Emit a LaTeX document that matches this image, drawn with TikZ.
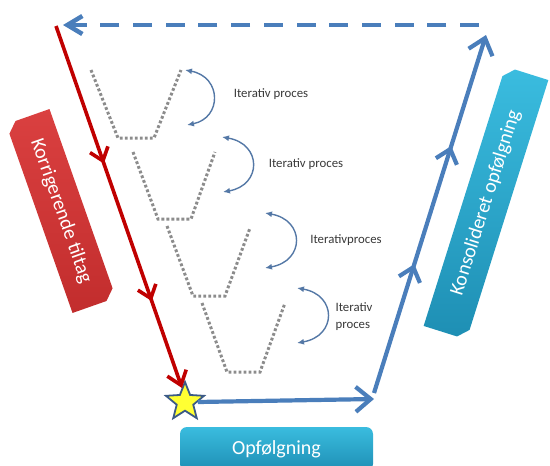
\documentclass[tikz,border=0pt]{standalone}
\usepackage{fontspec}
\setmainfont{Carlito}
\usetikzlibrary{arrows.meta,decorations.markings,shapes.geometric,shapes.misc}

\definecolor{lineblue}{HTML}{4A7EBB}
\definecolor{redline}{HTML}{C00000}
\definecolor{dotgray}{HTML}{8C8C8C}
\definecolor{curveblue}{HTML}{5478A6}
\definecolor{redA}{HTML}{DA4040}
\definecolor{redB}{HTML}{C22D2D}
\definecolor{tealA}{HTML}{3ABCDF}
\definecolor{tealB}{HTML}{1E8FB4}
\definecolor{staredge}{HTML}{3B5A86}
\definecolor{staryellow}{HTML}{FFFF33}

\tikzset{
  redpath/.style={draw=redline, line width=3.6pt},
  bluepath/.style={draw=lineblue, line width=4.2pt},
  redbarb/.style={-{Straight Barb[length=13pt,width=20pt]}},
  bluebarb/.style={-{Straight Barb[length=15pt,width=25pt]}},
  redmid/.style={postaction={decorate}, decoration={markings,
      mark=at position 0.38 with {\arrow{Straight Barb[length=12pt,width=19pt]}},
      mark=at position 0.76 with {\arrow{Straight Barb[length=12pt,width=19pt]}}}},
  bluemid/.style={postaction={decorate}, decoration={markings,
      mark=at position 0.36 with {\arrow{Straight Barb[length=13pt,width=22pt]}},
      mark=at position 0.69 with {\arrow{Straight Barb[length=13pt,width=22pt]}}}},
  dotline/.style={draw=dotgray, line width=3pt, dash pattern=on 2.8pt off 2.2pt},
  iterarrow/.style={draw=curveblue, line width=1.4pt, {Latex[length=7pt,width=6pt]}-{Latex[length=7pt,width=6pt]}},
  lbl/.style={font=\fontsize{12.8}{17}\selectfont, text=black!78, inner sep=0pt, align=left},
  banner/.style={chamfered rectangle, chamfered rectangle xsep=5pt, chamfered rectangle ysep=5pt,
      text=white, font=\fontsize{20}{24}\selectfont, inner sep=0pt},
}

\begin{document}
\begin{tikzpicture}[x=1pt,y=-1pt]
\useasboundingbox (0,0) rectangle (550,466);
\clip (0,0) rectangle (550,466);

% banners
\node[banner, chamfered rectangle corners={south west,north east}, top color=redA, bottom color=redB,
      minimum width=200pt, minimum height=46pt, rotate=-70.6] (korr) at (61,211) {Korrigerende tiltag};
\node[banner, chamfered rectangle corners={north east,south west}, top color=tealA, bottom color=tealB,
      minimum width=272pt, minimum height=45pt, rotate=72.5] (kons) at (486,203) {Konsolideret opfølgning};
\node[rectangle, rounded corners=7pt, top color=tealA, bottom color=tealB, text=white,
      font=\fontsize{20}{24}\selectfont, minimum width=193pt, minimum height=44pt] (opf) at (276.5,449) {Opfølgning};

% dotted trapezoids
\draw[dotline] (91,70) -- (118,138) -- (154,138) -- (181,70);
\draw[dotline] (133,152) -- (158,219) -- (191,219) -- (215,152);
\draw[dotline] (167,226) -- (193,296) -- (225,296) -- (250,228);
\draw[dotline] (202,303) -- (227,372) -- (260,372) -- (285,303);

% iterative arrows and labels
\coordinate (c1a) at (185,70);  \coordinate (c1b) at (187,125);
\coordinate (c2a) at (222,137); \coordinate (c2b) at (223,192);
\coordinate (c3a) at (265,213); \coordinate (c3b) at (265,268);
\coordinate (c4a) at (297,288); \coordinate (c4b) at (297,343);
\draw[iterarrow] (c1a) .. controls (222,77) and (222,118) .. (c1b);
\draw[iterarrow] (c2a) .. controls (262,144) and (262,185) .. (c2b);
\draw[iterarrow] (c3a) .. controls (305,220) and (305,261) .. (c3b);
\draw[iterarrow] (c4a) .. controls (337,295) and (337,336) .. (c4b);
\node[lbl] (l1) at (271,94) {Iterativ proces};
\node[lbl] (l2) at (306,164) {Iterativ proces};
\node[lbl] (l3) at (346,240) {Iterativproces};
\node[lbl] (l4) at (354,317) {Iterativ\\proces};

% star
\node[star, star points=5, star point ratio=2.3, draw=staredge, fill=staryellow, line width=1.8pt,
      minimum size=40pt, inner sep=0pt] (star) at (185,402) {};

% coordinates for main path
\coordinate (rstart) at (56,26);
\coordinate (rend) at (182,388);
\coordinate (bturn) at (374,399);
\coordinate (bup) at (374,393);
\coordinate (btop) at (486,35);
\coordinate (dstart) at (479,25);
\coordinate (dend) at (63,25);

% red corrective line
\draw[redpath, redmid, redbarb] (rstart) -- (rend);
% blue follow-up
\draw[bluepath, bluebarb] (star.east) -- (bturn);
\draw[bluepath, bluemid, bluebarb] (bup) -- (btop);
% dashed return
\draw[bluepath, line width=4.5pt, dash pattern=on 19pt off 13.7pt, -{Straight Barb[length=15pt,width=18pt]}] (dstart) -- (dend);
\end{tikzpicture}
\end{document}
